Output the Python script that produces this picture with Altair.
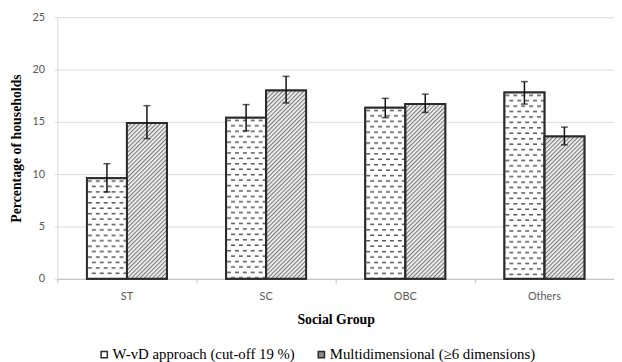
import base64
import altair as alt
import pandas as pd

groups = ["ST", "SC", "OBC", "Others"]
series = ["W-vD approach (cut-off 19 %)", "Multidimensional (≥6 dimensions)"]
wvd = [9.6, 15.4, 16.35, 17.8]
wvd_low = [8.3, 14.15, 15.4, 16.7]
wvd_high = [11.0, 16.65, 17.25, 18.85]
multi = [14.9, 18.0, 16.7, 13.6]
multi_low = [13.4, 16.8, 15.9, 12.8]
multi_high = [16.55, 19.35, 17.65, 14.5]

rows = []
for i, g in enumerate(groups):
    rows.append(dict(group=g, series=series[0], value=wvd[i], low=wvd_low[i], high=wvd_high[i]))
    rows.append(dict(group=g, series=series[1], value=multi[i], low=multi_low[i], high=multi_high[i]))
df = pd.DataFrame(rows)


def svg_uri(svg):
    return "data:image/svg+xml;base64," + base64.b64encode(svg.encode("utf-8")).decode("ascii")


dash_svg = (
    '<svg xmlns="http://www.w3.org/2000/svg" width="100%" height="100%">'
    '<defs><pattern id="d" width="8" height="11" patternUnits="userSpaceOnUse">'
    '<rect width="8" height="11" fill="#ffffff"/>'
    '<rect x="1" y="2" width="4" height="1.5" fill="#555555"/>'
    '<rect x="5" y="7.5" width="4" height="1.5" fill="#555555"/>'
    '<rect x="-3" y="7.5" width="4" height="1.5" fill="#555555"/>'
    '</pattern></defs>'
    '<rect width="100%" height="100%" fill="url(#d)"/></svg>'
)
hatch_svg = (
    '<svg xmlns="http://www.w3.org/2000/svg" width="100%" height="100%">'
    '<defs><pattern id="h" width="3" height="3" patternUnits="userSpaceOnUse" patternTransform="rotate(45)">'
    '<rect width="3" height="3" fill="#f0f0f0"/>'
    '<line x1="0.6" y1="0" x2="0.6" y2="3" stroke="#6e6e6e" stroke-width="1"/>'
    '</pattern></defs>'
    '<rect width="100%" height="100%" fill="url(#h)"/></svg>'
)

x_enc = alt.X(
    "group:N",
    sort=groups,
    scale=alt.Scale(type="band", paddingInner=0, paddingOuter=0),
    axis=alt.Axis(
        title="Social Group",
        bandPosition=0,
        labelAngle=0,
        labelFont="Lato",
        labelFontSize=11,
        labelColor="#595959",
        labelPadding=8,
        tickSize=4,
        tickColor="#bfbfbf",
        domainColor="#bfbfbf",
        grid=False,
        titleFont="Liberation Serif",
        titleFontSize=14,
        titleFontWeight="bold",
        titleColor="#000000",
        titlePadding=11,
    ),
)
xoff_enc = alt.XOffset(
    "series:N", sort=series, scale=alt.Scale(paddingInner=0, paddingOuter=0.74)
)
y_scale = alt.Scale(domain=[0, 25], nice=False)
y_enc = alt.Y(
    "value:Q",
    scale=y_scale,
    axis=alt.Axis(
        title="Percentage of households",
        values=[0, 5, 10, 15, 20, 25],
        labelFont="Lato",
        labelFontSize=11,
        labelColor="#595959",
        labelPadding=10,
        tickSize=3,
        tickColor="#d9d9d9",
        domainColor="#d9d9d9",
        gridColor="#d9d9d9",
        titleFont="Liberation Serif",
        titleFontSize=14,
        titleFontWeight="bold",
        titleColor="#000000",
        titlePadding=9,
    ),
)

base = alt.Chart(df)

legend_bars = base.mark_bar(stroke="#2b2b2b", strokeWidth=2).encode(
    x=x_enc,
    xOffset=xoff_enc,
    y=y_enc,
    y2=alt.datum(0),
    fill=alt.Fill(
        "series:N",
        sort=series,
        scale=alt.Scale(domain=series, range=["#ffffff", "#8a8a8a"]),
        legend=alt.Legend(
            title=None,
            orient="none",
            direction="horizontal",
            legendX=40,
            legendY=334,
            symbolType="square",
            symbolSize=40,
            symbolStrokeColor="#2b2b2b",
            symbolStrokeWidth=1.5,
            labelFont="Liberation Serif",
            labelFontSize=15,
            labelColor="#000000",
            labelOffset=1,
            labelLimit=400,
            columnPadding=19,
        ),
    ),
)

img_dash = base.transform_filter(alt.datum.series == series[0]).mark_image(aspect=False).encode(
    x=x_enc, xOffset=xoff_enc, y=y_enc, y2=alt.datum(0), url=alt.value(svg_uri(dash_svg))
)
img_hatch = base.transform_filter(alt.datum.series == series[1]).mark_image(aspect=False).encode(
    x=x_enc, xOffset=xoff_enc, y=y_enc, y2=alt.datum(0), url=alt.value(svg_uri(hatch_svg))
)

outline = base.mark_bar(fillOpacity=0, stroke="#2b2b2b", strokeWidth=2).encode(
    x=x_enc, xOffset=xoff_enc, y=y_enc, y2=alt.datum(0)
)

err_rule = base.mark_rule(color="#111111", strokeWidth=1.5).encode(
    x=x_enc, xOffset=xoff_enc, y=alt.Y("low:Q", scale=y_scale), y2="high:Q"
)
err_top = base.mark_tick(color="#111111", thickness=1.5, size=7, orient="horizontal").encode(
    x=x_enc, xOffset=xoff_enc, y=alt.Y("high:Q", scale=y_scale)
)
err_bot = base.mark_tick(color="#111111", thickness=1.5, size=7, orient="horizontal").encode(
    x=x_enc, xOffset=xoff_enc, y=alt.Y("low:Q", scale=y_scale)
)

chart = (
    alt.layer(legend_bars, img_dash, img_hatch, outline, err_rule, err_top, err_bot)
    .properties(
        width=564,
        height=265,
        autosize=alt.AutoSizeParams(type="none"),
        padding={"left": 50, "top": 7, "right": 0, "bottom": 86},
        background="#ffffff",
    )
    .configure_view(stroke=None)
)

chart.save("out.html", embed_options={"renderer": "svg", "actions": False})
